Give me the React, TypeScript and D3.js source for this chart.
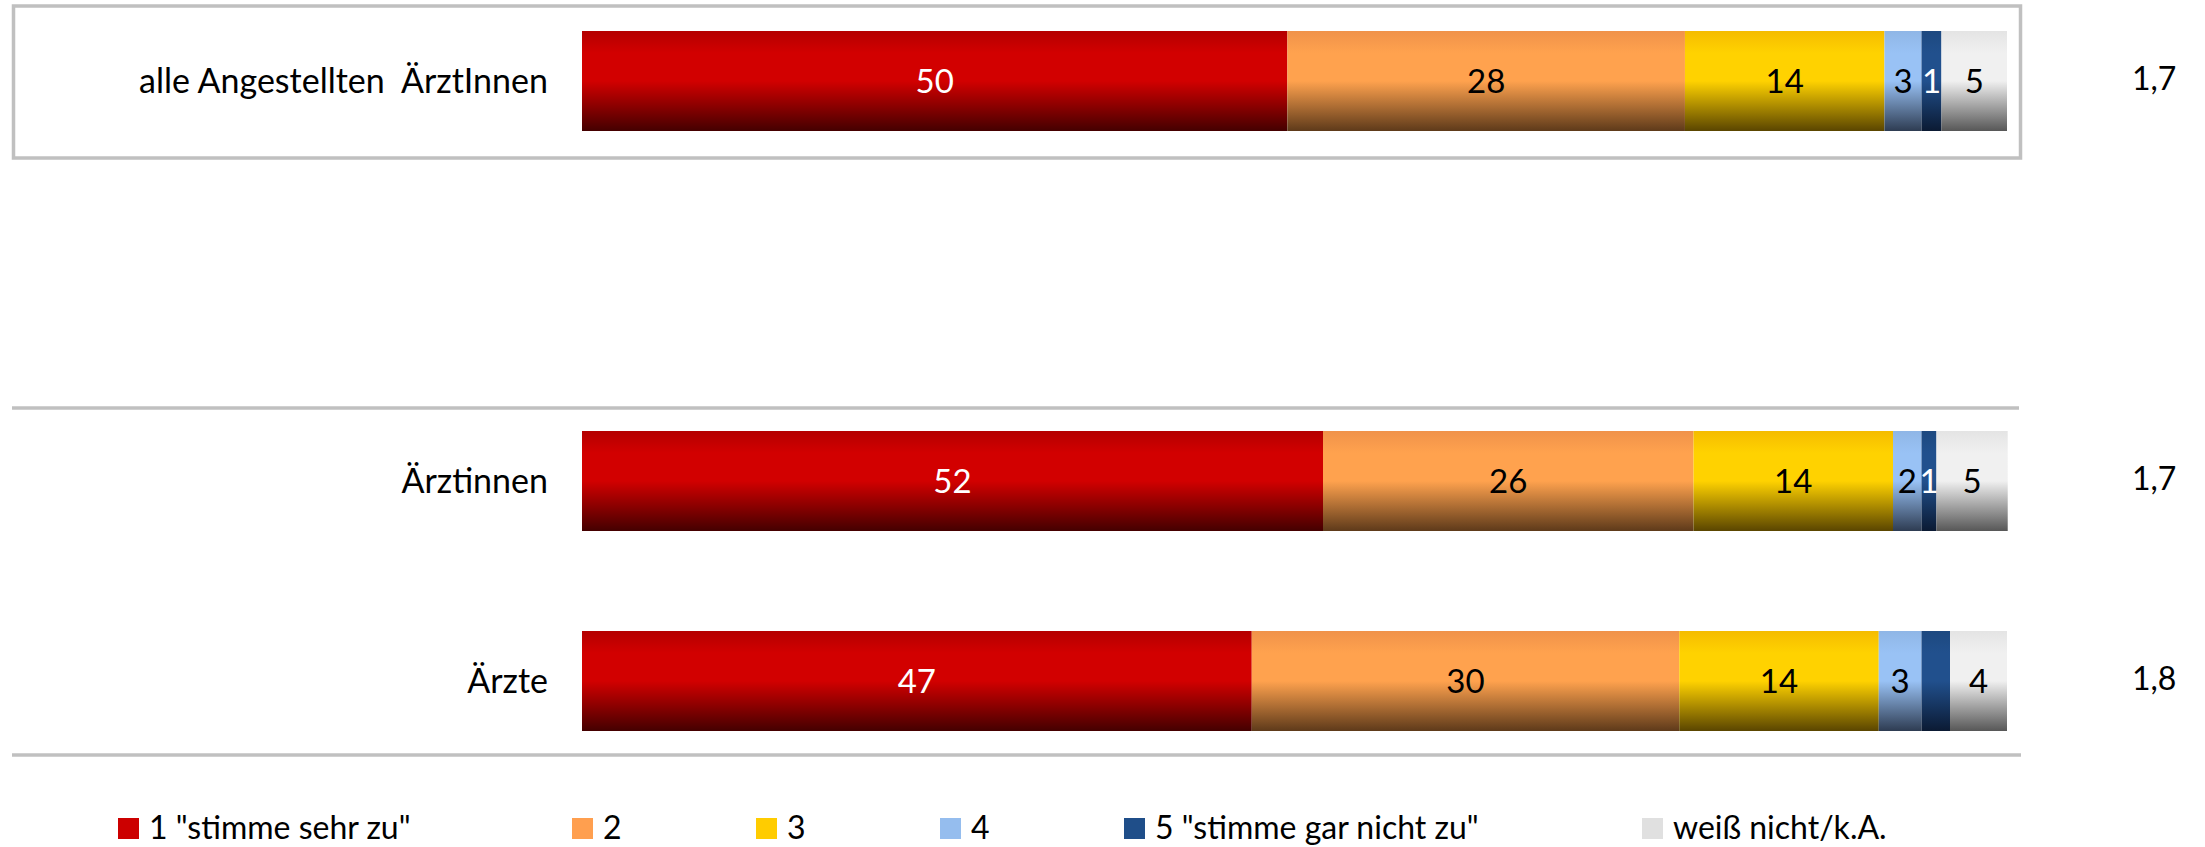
import React from "react";
import * as d3 from "d3";

// ---------- data ----------
const categories = ["alle Angestellten  ÄrztInnen", "", "Ärztinnen", "Ärzte"];
const seriesNames = [
  '1 "stimme sehr zu"',
  "2",
  "3",
  "4",
  '5 "stimme gar nicht zu"',
  "weiß nicht/k.A.",
];
const s1 = [49.5, 0, 52.0, 47.0];
const s2 = [27.9, 0, 26.0, 30.0];
const s3 = [14.0, 0, 14.0, 14.0];
const s4 = [2.6, 0, 2.0, 3.0];
const s5 = [1.4, 0, 1.05, 2.0];
const s6 = [4.6, 0, 5.0, 4.0];
const labels1 = ["50", "", "52", "47"];
const labels2 = ["28", "", "26", "30"];
const labels3 = ["14", "", "14", "14"];
const labels4 = ["3", "", "2", "3"];
const labels5 = ["1", "", "1", ""];
const labels6 = ["5", "", "5", "4"];
const means = ["1,7", "", "1,7", "1,8"];

// ---------- styles ----------
const legendColors = ["#CC0000", "#FF9F4F", "#FFCC00", "#95BDEE", "#1F4E89", "#E0E0E0"];
const gradTop = ["#b40000", "#f0924a", "#f5bc00", "#8fb6e6", "#1d4980", "#e4e4e4"];
const gradPeak = ["#d20000", "#ffa24e", "#ffd200", "#99c2f5", "#21508d", "#f0f0f0"];
const gradBottom = ["#440000", "#5e3a1a", "#5a4500", "#2e3c52", "#0b1a33", "#575757"];
const labelColors = ["#ffffff", "#000000", "#000000", "#000000", "#ffffff", "#000000"];
const legendX = [118, 572, 756, 940, 1124, 1642];

const W = 2205;
const H = 847;
const FONT = "Lato, 'Open Sans', sans-serif";

export default function App() {
  const seriesValues = [s1, s2, s3, s4, s5, s6];
  const seriesLabels = [labels1, labels2, labels3, labels4, labels5, labels6];
  const keys = seriesNames.map((_, i) => "k" + i);
  const table = categories.map((c, r) => {
    const o: any = { cat: c, idx: r };
    keys.forEach((k, i) => (o[k] = seriesValues[i][r]));
    return o;
  });
  const stacked = d3.stack<any>().keys(keys)(table);

  const x = d3.scaleLinear().domain([0, 100]).range([582, 2007]);
  const y = d3
    .scaleBand<number>()
    .domain(categories.map((_, i) => i))
    .range([-19, 781])
    .paddingInner(0.5)
    .paddingOuter(0.25);
  const bw = y.bandwidth();

  return (
    <svg
      width={W}
      height={H}
      style={{ position: "absolute", left: 0, top: 0, background: "#fff" }}
      fontFamily={FONT}
    >
      <defs>
        {keys.map((k, i) => (
          <linearGradient key={k} id={"g" + i} x1="0" y1="0" x2="0" y2="1">
            <stop offset="0" stopColor={gradTop[i]} />
            <stop offset="0.22" stopColor={gradPeak[i]} />
            <stop offset="0.5" stopColor={gradPeak[i]} />
            <stop offset="1" stopColor={gradBottom[i]} />
          </linearGradient>
        ))}
      </defs>
      <rect x={0} y={0} width={W} height={H} fill="#fff" />

      {/* frame around first row */}
      <rect x={13.5} y={6} width={2007} height={152} fill="none" stroke="#c0c0c0" strokeWidth={3.5} />
      {/* separators */}
      <line x1={12} x2={2019} y1={408} y2={408} stroke="#c0c0c0" strokeWidth={3.5} />
      <line x1={12} x2={2021} y1={755} y2={755} stroke="#c0c0c0" strokeWidth={3.5} />

      {/* bars */}
      {stacked.map((layer, si) => (
        <g key={layer.key}>
          {layer.map((d, ri) =>
            categories[ri] === "" ? null : (
              <rect
                key={ri}
                x={x(d[0])}
                y={y(ri)}
                width={x(d[1]) - x(d[0])}
                height={bw}
                fill={`url(#g${si})`}
              />
            )
          )}
        </g>
      ))}

      {/* value labels */}
      {stacked.map((layer, si) => (
        <g key={"l" + layer.key}>
          {layer.map((d, ri) => {
            const t = seriesLabels[si][ri];
            if (!t) return null;
            return (
              <text
                key={ri}
                x={(x(d[0]) + x(d[1])) / 2}
                y={(y(ri) as number) + bw / 2 + 12}
                textAnchor="middle"
                fontSize={33}
                fill={labelColors[si]}
              >
                {t}
              </text>
            );
          })}
        </g>
      ))}

      {/* category labels */}
      {categories.map((c, ri) =>
        c === "" ? null : (
          <text
            key={"c" + ri}
            x={548}
            y={(y(ri) as number) + bw / 2 + 12}
            textAnchor="end"
            fontSize={34}
            fill="#000"
            style={{ whiteSpace: "pre" }}
          >
            {c}
          </text>
        )
      )}

      {/* means */}
      {means.map((m, ri) =>
        m === "" ? null : (
          <text
            key={"m" + ri}
            x={2132}
            y={(y(ri) as number) + bw / 2 + 9}
            textAnchor="start"
            fontSize={32}
            fill="#000"
          >
            {m}
          </text>
        )
      )}

      {/* legend */}
      {seriesNames.map((n, i) => (
        <g key={"lg" + i} transform={`translate(${legendX[i]},818)`}>
          <rect x={0} y={0} width={21} height={21} fill={legendColors[i]} />
          <text x={31} y={21} fontSize={32} fill="#000">
            {n}
          </text>
        </g>
      ))}
    </svg>
  );
}
